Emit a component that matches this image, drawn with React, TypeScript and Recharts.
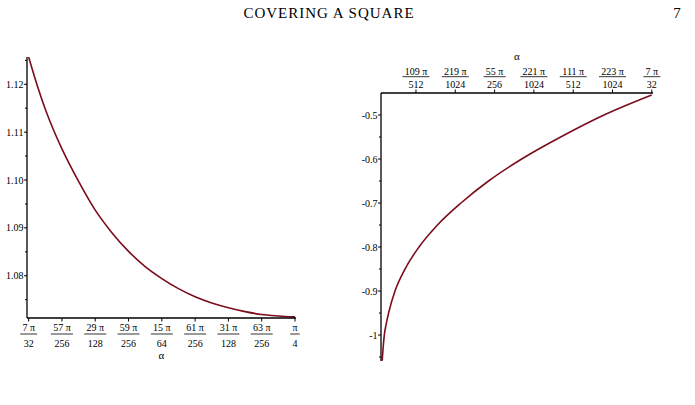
import React from "react";
import { LineChart, Line, XAxis, YAxis } from "recharts";

// ---- Left panel data (alpha in units of π/256) ----
const leftAlpha = [56, 56.25, 56.5, 56.75, 57, 57.5, 58, 58.5, 59, 59.5, 60, 60.5, 61, 61.5, 62, 62.5, 63, 63.5, 64];
const leftValue = [1.1257, 1.1199, 1.1148, 1.1104, 1.1065, 1.0997, 1.0937, 1.089, 1.0851, 1.0819, 1.0794, 1.0773, 1.0756, 1.0743, 1.0733, 1.0725, 1.0719, 1.0716, 1.0714];
const leftXTicks = [56, 57, 58, 59, 60, 61, 62, 63, 64];
const leftXNum = ["7 π", "57 π", "29 π", "59 π", "15 π", "61 π", "31 π", "63 π", "π"];
const leftXDen = ["32", "256", "128", "256", "64", "256", "128", "256", "4"];
const leftYMajor = [1.08, 1.09, 1.1, 1.11, 1.12];
const leftYLabels = ["1.08", "1.09", "1.10", "1.11", "1.12"];
const leftYMinor = [1.075, 1.085, 1.095, 1.105, 1.115, 1.125];

// ---- Right panel data (alpha in units of π/1024) ----
const rightAlpha = [217.14, 217.163, 217.194, 217.242, 217.303, 217.466, 217.721, 218.077, 218.547, 219.145, 219.845, 220.689, 221.681, 222.783, 223.996];
const rightValue = [-1.0585, -1.03, -1.0, -0.975, -0.95, -0.9, -0.85, -0.8, -0.75, -0.7, -0.65, -0.6, -0.55, -0.5, -0.4545];
const rightXTicks = [218, 219, 220, 221, 222, 223, 224];
const rightXNum = ["109 π", "219 π", "55 π", "221 π", "111 π", "223 π", "7 π"];
const rightXDen = ["512", "1024", "256", "1024", "512", "1024", "32"];
const rightYMajor = [-1, -0.9, -0.8, -0.7, -0.6, -0.5];
const rightYLabels = ["-1", "-0.9", "-0.8", "-0.7", "-0.6", "-0.5"];
const rightYMinor = [-1.05, -0.95, -0.85, -0.75, -0.65, -0.55];

const leftData = leftAlpha.map((a, i) => ({ a, v: leftValue[i] }));
const rightData = rightAlpha.map((a, i) => ({ a, v: rightValue[i] }));

const FONT = "'Liberation Serif', 'Times New Roman', serif";
const CURVE = "#7a0c1c";

function textW(s: string) {
  let w = 0;
  for (const c of s) {
    if (c === " ") w += 2.5;
    else if (c === "π") w += 5.5;
    else w += 5;
  }
  return w;
}

function findIdx(arr: number[], v: number) {
  return arr.findIndex((t) => Math.abs(t - v) < 1e-6);
}

function FracTick(props: any) {
  const { x, y, payload, ticks, nums, dens, top } = props;
  const i = findIdx(ticks, payload.value);
  if (i < 0) return null;
  const num = nums[i];
  const den = dens[i];
  const w = Math.max(textW(num), textW(den)) + 4;
  const s = top ? -1 : 1;
  const numY = top ? y - 18 : y + 13;
  const lineY = top ? y - 16.3 : y + 16;
  const denY = top ? y - 5.4 : y + 28.5;
  return (
    <g>
      <line x1={x} y1={y} x2={x} y2={y + s * 3.5} stroke="#000" strokeWidth={1} />
      <text x={x} y={numY} textAnchor="middle" fontFamily={FONT} fontSize={10} fill="#000">{num}</text>
      <line x1={x - w / 2} x2={x + w / 2} y1={lineY} y2={lineY} stroke="#000" strokeWidth={0.8} />
      <text x={x} y={denY} textAnchor="middle" fontFamily={FONT} fontSize={10} fill="#000">{den}</text>
    </g>
  );
}

function YTick(props: any) {
  const { x, y, payload, majors, labels } = props;
  const i = findIdx(majors, payload.value);
  if (i < 0) {
    return <line x1={x - 2} x2={x} y1={y} y2={y} stroke="#000" strokeWidth={1} />;
  }
  return (
    <g>
      <line x1={x - 3} x2={x} y1={y} y2={y} stroke="#000" strokeWidth={1} />
      <text x={x - 3.5} y={y + 3.5} textAnchor="end" fontFamily={FONT} fontSize={10} fill="#000">{labels[i]}</text>
    </g>
  );
}

export default function App() {
  return (
    <div style={{ position: "absolute", left: 0, top: 0, width: 695, height: 405, background: "#fff", overflow: "hidden" }}>
      <div style={{ position: "absolute", left: 0, top: 0 }}>
        <LineChart width={340} height={405} data={leftData} margin={{ top: 57, right: 44, bottom: 0, left: 0 }}>
          <XAxis
            dataKey="a"
            type="number"
            domain={[55.95, 64.03]}
            allowDataOverflow
            ticks={leftXTicks}
            interval={0}
            tickSize={0}
            tickMargin={0}
            tickLine={false}
            height={87}
            axisLine={{ stroke: "#000", strokeWidth: 1.3 }}
            tick={(p: any) => <FracTick {...p} ticks={leftXTicks} nums={leftXNum} dens={leftXDen} top={false} />}
          />
          <YAxis
            type="number"
            domain={[1.07117, 1.1257]}
            allowDataOverflow
            ticks={[...leftYMajor, ...leftYMinor]}
            interval={0}
            tickSize={0}
            tickMargin={0}
            tickLine={false}
            width={27}
            axisLine={{ stroke: "#000", strokeWidth: 1.3 }}
            tick={(p: any) => <YTick {...p} majors={leftYMajor} labels={leftYLabels} />}
          />
          <Line dataKey="v" type="monotone" stroke={CURVE} strokeWidth={1.6} dot={false} isAnimationActive={false} />
        </LineChart>
      </div>
      <div style={{ position: "absolute", left: 340, top: 0 }}>
        <LineChart width={355} height={405} data={rightData} margin={{ top: 0, right: 42, bottom: 44, left: 0 }}>
          <XAxis
            dataKey="a"
            type="number"
            orientation="top"
            domain={[217.11, 224.03]}
            allowDataOverflow
            ticks={rightXTicks}
            interval={0}
            tickSize={0}
            tickMargin={0}
            tickLine={false}
            height={93}
            axisLine={{ stroke: "#000", strokeWidth: 1.3 }}
            tick={(p: any) => <FracTick {...p} ticks={rightXTicks} nums={rightXNum} dens={rightXDen} top={true} />}
          />
          <YAxis
            type="number"
            domain={[-1.059, -0.45]}
            allowDataOverflow
            ticks={[...rightYMajor, ...rightYMinor]}
            interval={0}
            tickSize={0}
            tickMargin={0}
            tickLine={false}
            width={41}
            axisLine={{ stroke: "#000", strokeWidth: 1.3 }}
            tick={(p: any) => <YTick {...p} majors={rightYMajor} labels={rightYLabels} />}
          />
          <Line dataKey="v" type="monotone" stroke={CURVE} strokeWidth={1.6} dot={false} isAnimationActive={false} />
        </LineChart>
      </div>
      <svg width={695} height={405} style={{ position: "absolute", left: 0, top: 0, pointerEvents: "none" }}>
        <text x={329} y={18} textAnchor="middle" fontFamily={FONT} fontSize={15} letterSpacing={1} fill="#000">COVERING A SQUARE</text>
        <text x={677} y={18} textAnchor="middle" fontFamily={FONT} fontSize={15} fill="#000">7</text>
        <text x={161.5} y={358.5} textAnchor="middle" fontFamily={FONT} fontSize={11} fill="#000">α</text>
        <text x={517} y={59.5} textAnchor="middle" fontFamily={FONT} fontSize={11} fill="#000">α</text>
      </svg>
    </div>
  );
}
